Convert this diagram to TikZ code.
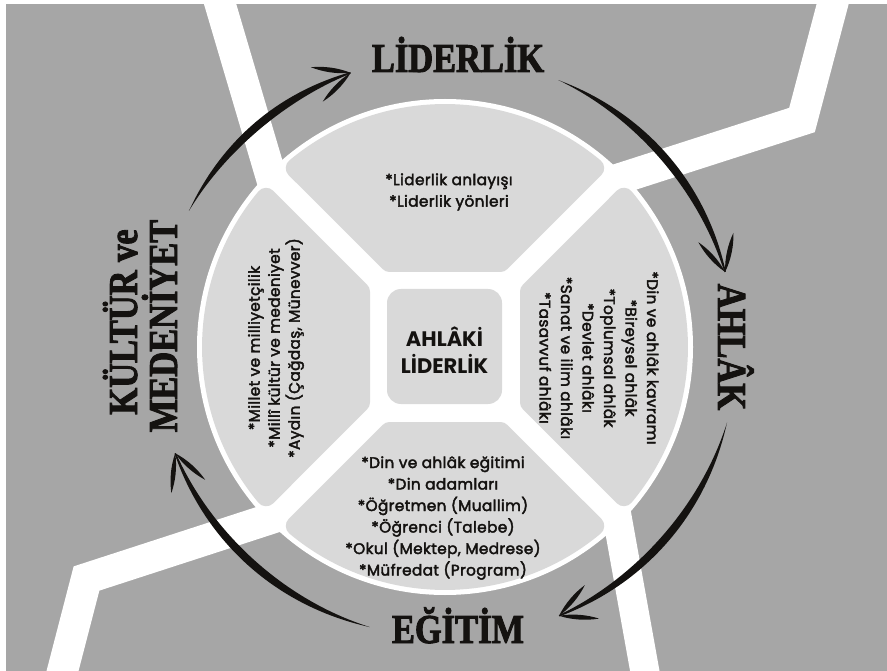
\documentclass[tikz,border=0pt]{standalone}
\usepackage{fontspec}
\setmainfont{Poppins}
\newfontfamily\bodyfont{Poppins}[FakeBold=2.6, LetterSpace=2.5]
\newfontfamily\plainsans{Poppins}
\newfontfamily\titlefont{Liberation Serif}[FakeStretch=0.84, FakeBold=2.2]
\usetikzlibrary{calc}
\definecolor{bg}{HTML}{A6A6A6}
\definecolor{sect}{HTML}{D9D9D9}
\definecolor{ink}{HTML}{141210}
\tikzset{
 body/.style={font=\bodyfont\fontsize{15.3}{21.5}\selectfont, align=center, text=ink, inner sep=0},
 title/.style={font=\titlefont\bfseries\fontsize{41}{41}\selectfont, text=ink, inner sep=0, anchor=base},
 band/.style={draw=white, line width=31, line join=miter},
 sector/.style={fill=sect, draw=sect, line width=20, line join=round},
 corebox/.style={fill=sect, rounded corners=14, minimum width=115, minimum height=115, inner sep=0},
}
\newcommand\brushBarb[1]{%
  \fill[ink] (tip) .. controls ($(tip)+({#1+14}:14)$) and ($(tip)+({#1+6}:28)$) .. ($(tip)+({#1}:40)$)
     .. controls ($(tip)+({#1-6}:28)$) and ($(tip)+({#1-14}:14)$) .. (tip);
}
\newcommand\brushArrow[3]{%
  \fill[ink] plot[domain=#1:#2, samples=60] ({445+(#3+4*sin(170*(\x-#1)/(#2-#1)))*cos(\x)}, {347+(#3+4*sin(170*(\x-#1)/(#2-#1)))*sin(\x)})
    -- plot[domain=#2:#1, samples=60] ({445+(#3-4*sin(170*(\x-#1)/(#2-#1)))*cos(\x)}, {347+(#3-4*sin(170*(\x-#1)/(#2-#1)))*sin(\x)}) -- cycle;
  \coordinate (tip) at ({445+#3*cos(#2)},{347+#3*sin(#2)});
  \brushBarb{#2-90+27}
  \brushBarb{#2-90-27}
}
\begin{document}
\begin{tikzpicture}[x=1pt,y=-1pt]
\useasboundingbox (0,0) rectangle (887,671);
\fill[bg] (6,4) rectangle (887,671);
% white background bands
\draw[band] (213,-20) -- (275,190);
\draw[band] (839,-20) -- (802,120) -- (600,185);
\draw[band] (55,700) -- (86.5,578.5) -- (285,514);
\draw[band, line width=29] (650,700) -- (615,505);
% circle and sectors
\fill[white] (445,347) circle[radius=248];
\foreach \a in {0,90,180,270}{
  \begin{scope}[shift={(445,347)}, rotate=\a]
    \path[sector] (-55.3,-85) -- (55.3,-85) -- (149.2,-178.9)
      arc[start angle=-50.17, end angle=-129.83, radius=233] -- cycle;
  \end{scope}
}
\node[corebox] (core) at (444.5,346.5) {};
\node[font=\plainsans\bfseries\fontsize{21}{27}\selectfont, align=center, text=ink, inner sep=0] (coretext) at (444.5,350) {AHLÂKİ\\LİDERLİK};
% sector texts
\node[body] (t1) at (449,192) {*Liderlik anlayışı\\*Liderlik yönleri};
\node[body, rotate=-90] (t2) at (599,358) {*Din ve ahlâk kavramı\\*Bireysel ahlâk\\*Toplumsal ahlâk\\*Devlet ahlâkı\\*Sanat ve ilim ahlâkı\\*Tasavvuf ahlâkı};
\node[body] (t3) at (443,518) {*Din ve ahlâk eğitimi\\*Din adamları\\*Öğretmen (Muallim)\\*Öğrenci (Talebe)\\*Okul (Mektep, Medrese)\\*Müfredat (Program)};
\node[body, font=\bodyfont\fontsize{15.3}{20}\selectfont, rotate=90] (t4) at (276,348) {*Millet ve milliyetçilik\\*Millî kültür ve medeniyet\\*Aydın (Çağdaş, Münevver)};
% titles
\node[title] (lider) at (458,72) {LİDERLİK};
\node[title] (egitim) at (458,643) {EĞİTİM};
\node[title, rotate=-90] (ahlak) at (718,347) {AHLÂK};
\node[title, rotate=90] (kultur) at (137,322) {KÜLTÜR ve};
\node[title, rotate=90] (medeniyet) at (177,326) {MEDENİYET};
% arrows
\brushArrow{208}{251}{290}
\brushArrow{293}{345}{290}
\brushArrow{15}{67}{292}
\brushArrow{105}{158.5}{290}
\end{tikzpicture}
\end{document}
